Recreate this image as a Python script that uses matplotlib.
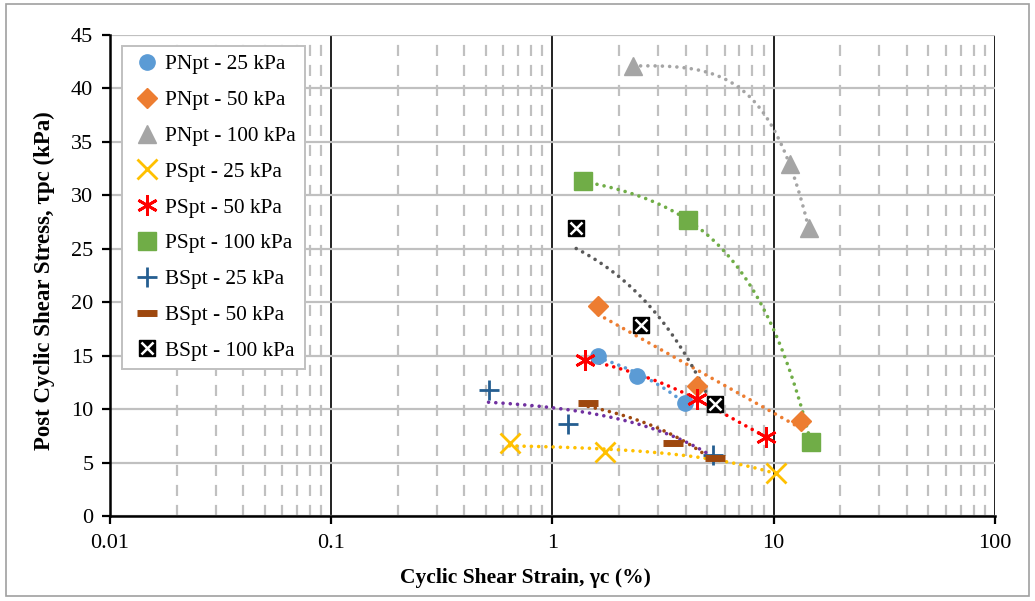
import numpy as np
import matplotlib
matplotlib.use("Agg")
from matplotlib import pyplot as plt
from matplotlib.ticker import LogLocator, FixedLocator, NullFormatter, FuncFormatter

plt.rcParams['font.family'] = ['Liberation Serif', 'DejaVu Serif']

# strain (%) and post cyclic shear stress (kPa) per test series
pn25_x = [1.61, 2.40, 3.99]
pn25_y = [15.0, 13.1, 10.6]
pn50_x = [1.61, 4.52, 13.3]
pn50_y = [19.6, 12.2, 8.9]
pn100_x = [2.32, 11.8, 14.4]
pn100_y = [42.1, 32.9, 26.9]
ps25_x = [0.64, 1.72, 10.2]
ps25_y = [6.8, 6.0, 4.0]
ps50_x = [1.41, 4.52, 9.27]
ps50_y = [14.6, 10.9, 7.4]
ps100_x = [1.37, 4.08, 14.7]
ps100_y = [31.3, 27.7, 6.9]
bs25_x = [0.514, 1.18, 5.34]
bs25_y = [11.8, 8.6, 5.7]
bs50_x = [1.45, 3.52, 5.45]
bs50_y = [10.6, 6.8, 5.4]
bs100_x = [1.28, 2.50, 5.45]
bs100_y = [26.9, 17.9, 10.5]

fig = plt.figure(figsize=(10.35, 6.01), dpi=100)
fig.patches.append(plt.Rectangle((0.006, 0.008), 0.988, 0.985, transform=fig.transFigure,
                                 fill=False, edgecolor='#a0a0a0', lw=1.2))
ax = fig.add_axes([0.1063, 0.1414, 0.855, 0.8004])


def trend(x, y, color, kind='linear'):
    # trendline like Excel's: linear, log or 2nd order poly, over the data range
    x = np.asarray(x)
    xs = np.logspace(np.log10(x.min()), np.log10(x.max()), 200)
    if kind == 'log':
        b, a = np.polyfit(np.log(x), y, 1)
        ys = a + b * np.log(xs)
    elif kind == 'poly':
        ys = np.polyval(np.polyfit(x, y, 2), xs)
    else:
        ys = np.polyval(np.polyfit(x, y, 1), xs)
    ax.plot(xs, ys, color=color, lw=2.6, linestyle=(0, (0.01, 2.0)),
            dash_capstyle='round', zorder=3)


trend(pn25_x, pn25_y, '#5B9BD5')
trend(pn50_x, pn50_y, '#ED7D31', 'log')
trend(pn100_x, pn100_y, '#A5A5A5', 'poly')
trend(ps25_x, ps25_y, '#FFC000')
trend(ps50_x, ps50_y, '#FF0000', 'poly')
trend(ps100_x, ps100_y, '#70AD47', 'poly')
trend(bs25_x, bs25_y, '#7030A0')
trend(bs50_x, bs50_y, '#9E480E')
trend(bs100_x, bs100_y, '#595959')

h = []
h.append(ax.plot(pn25_x, pn25_y, 'o', color='#5B9BD5', ms=11, ls='none', zorder=4,
                 label='PNpt - 25 kPa')[0])
h.append(ax.plot(pn50_x, pn50_y, 'D', color='#ED7D31', ms=10.5, ls='none', zorder=4,
                 label='PNpt - 50 kPa')[0])
h.append(ax.plot(pn100_x, pn100_y, '^', color='#A5A5A5', ms=13, ls='none', zorder=4,
                 label='PNpt - 100 kPa')[0])
h.append(ax.plot(ps25_x, ps25_y, 'x', color='#FFC000', ms=14, mew=2, ls='none', zorder=4,
                 label='PSpt - 25 kPa')[0])
h.append(ax.plot(ps50_x, ps50_y, marker=(6, 2, 0), color='#FF0000', ms=15, mew=2, ls='none',
                 zorder=4, label='PSpt - 50 kPa')[0])
h.append(ax.plot(ps100_x, ps100_y, 's', color='#70AD47', ms=13, ls='none', zorder=4,
                 label='PSpt - 100 kPa')[0])
h.append(ax.plot(bs25_x, bs25_y, '+', color='#255E91', ms=15, mew=2, ls='none', zorder=4,
                 label='BSpt - 25 kPa')[0])
h.append(ax.plot(bs50_x, bs50_y, '_', color='#9E480E', ms=14, mew=5, ls='none', zorder=4,
                 label='BSpt - 50 kPa')[0])
sq = ax.plot(bs100_x, bs100_y, 's', color='black', ms=11, ls='none', zorder=4,
             label='BSpt - 100 kPa')[0]
cr = ax.plot(bs100_x, bs100_y, 'x', color='white', ms=8, mew=1.8, ls='none', zorder=5)[0]
h.append((sq, cr))
labels = [hh[0].get_label() if isinstance(hh, tuple) else hh.get_label() for hh in h]

ax.set_xscale('log')
ax.set_xlim(0.01, 100)
ax.set_ylim(0, 45)
ax.set_yticks(np.arange(0, 46, 5))
ax.xaxis.set_major_locator(FixedLocator([0.01, 0.1, 1, 10, 100]))
ax.xaxis.set_major_formatter(FuncFormatter(lambda v, p: '%g' % v))
ax.xaxis.set_minor_locator(LogLocator(base=10, subs=np.arange(2, 10), numticks=20))
ax.xaxis.set_minor_formatter(NullFormatter())

ax.grid(True, axis='y', which='major', color='#c0c0c0', lw=1.6)
ax.grid(True, axis='x', which='major', color='#202020', lw=1.4)
ax.grid(True, axis='x', which='minor', color='#c0c0c0', lw=1.6, ls=(0, (5, 4)))
ax.set_axisbelow(True)

for s in ['top', 'right']:
    ax.spines[s].set_visible(False)
ax.spines['left'].set_linewidth(1.8)
ax.spines['bottom'].set_linewidth(1.8)
ax.tick_params(axis='both', which='major', labelsize=16, length=6, width=1.6,
               direction='out', color='black')
ax.tick_params(axis='x', which='minor', length=0)
ax.tick_params(axis='x', pad=7)
ax.tick_params(axis='y', pad=6)

ax.set_xlabel('Cyclic Shear Strain, γc (%)', fontsize=15.5, fontweight='bold')
ax.xaxis.set_label_coords(0.469, -0.108)
ax.set_ylabel('Post Cyclic Shear Stress, τpc (kPa)', fontsize=16.5, fontweight='bold')
ax.yaxis.set_label_coords(-0.062, 0.49)

leg = ax.legend(h, labels, loc='upper left', bbox_to_anchor=(0.014, 0.977), fontsize=15.3,
                frameon=True, fancybox=False, edgecolor='#c0c0c0', framealpha=1,
                handlelength=1.5, handletextpad=0.12, labelspacing=0.75, borderpad=0.4,
                borderaxespad=0)
leg.get_frame().set_linewidth(1.4)

fig.savefig('out.png', dpi=100)
